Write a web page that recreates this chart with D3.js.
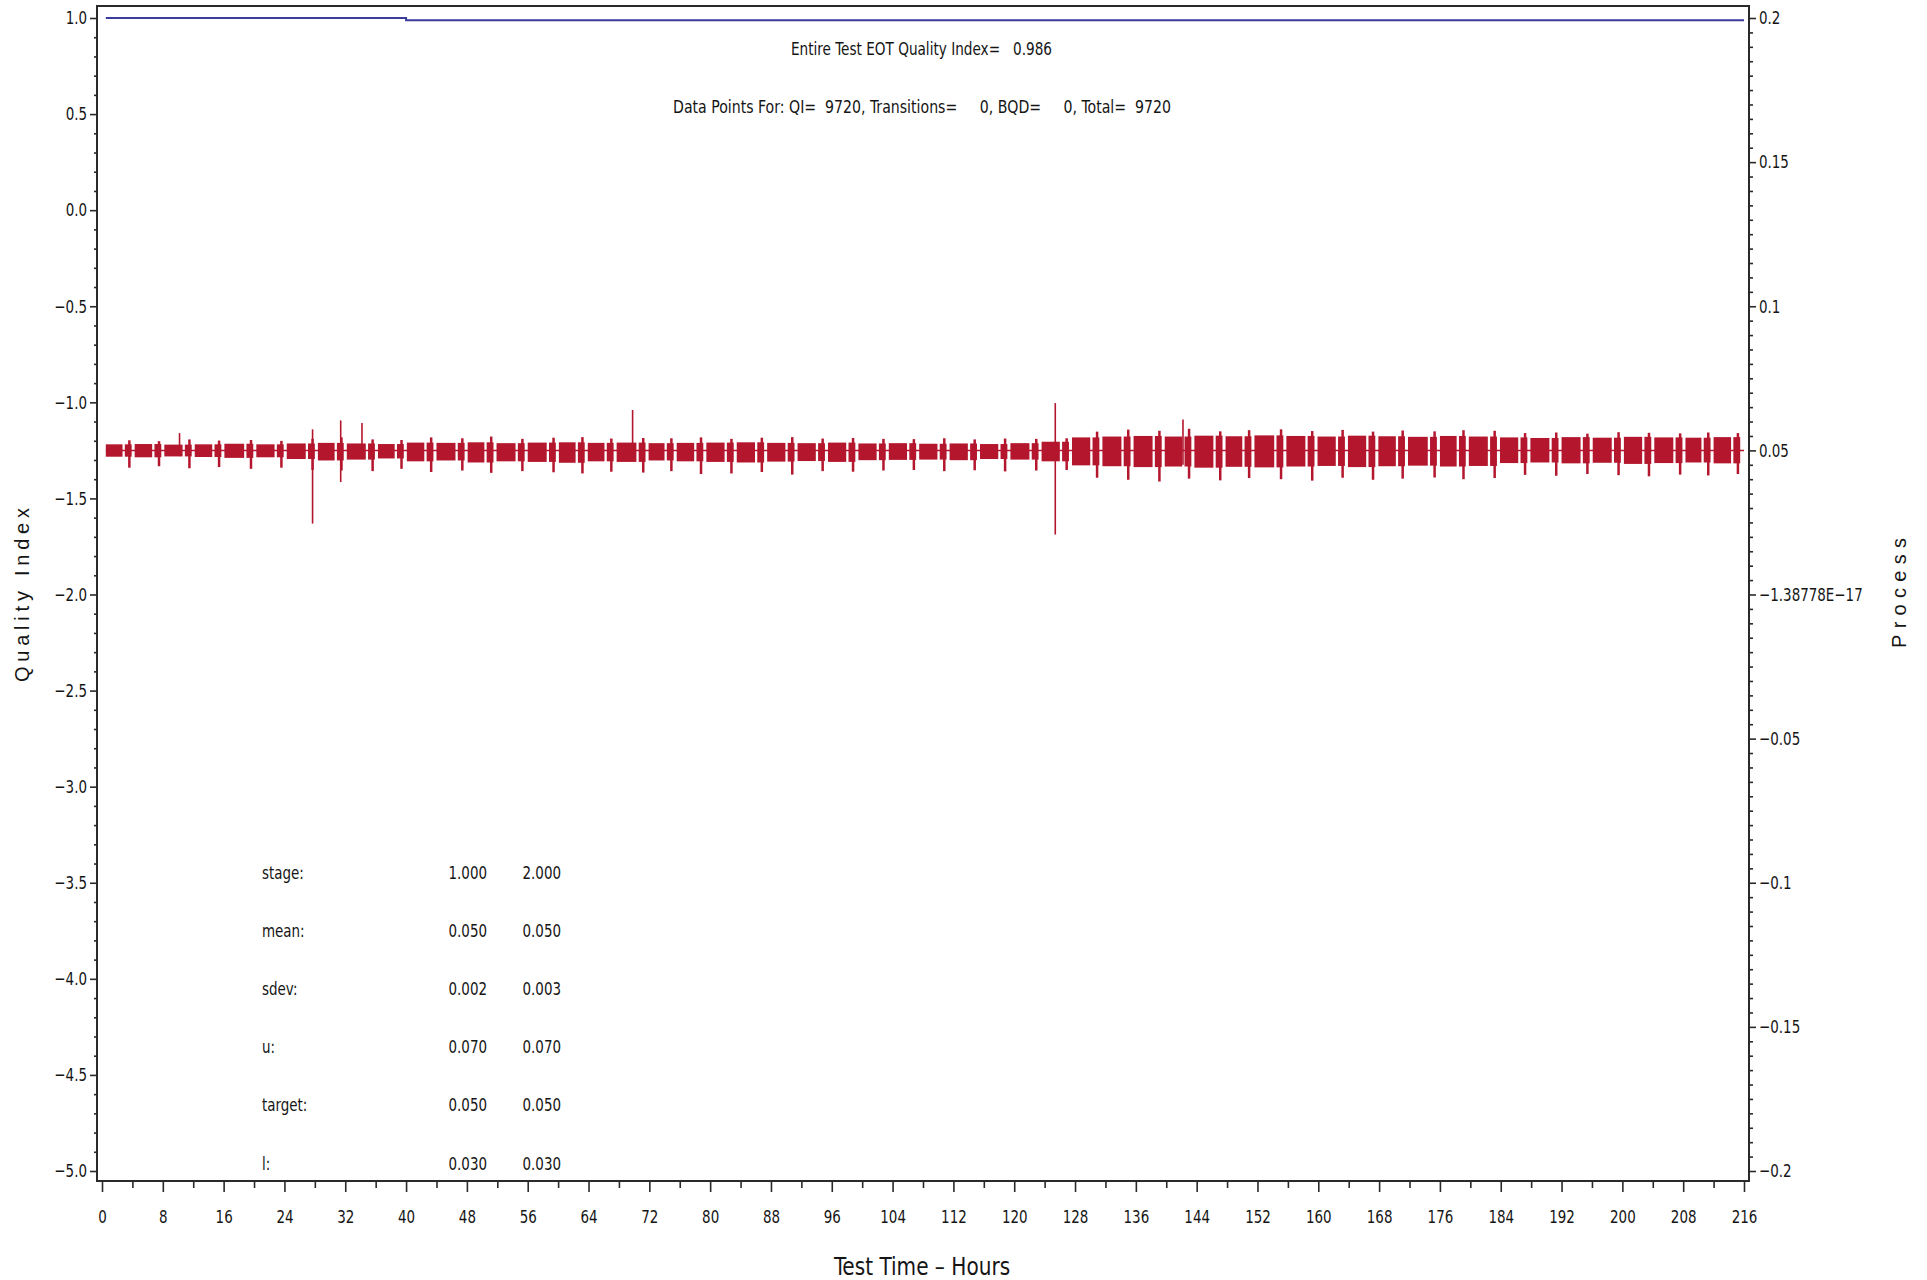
<!DOCTYPE html>
<html><head><meta charset="utf-8">
<script src="https://cdn.jsdelivr.net/npm/d3@7"></script>
<style>
html,body{margin:0;padding:0;background:#fff;}
svg text{font-family:"Liberation Sans Narrow","DejaVu Sans Condensed","Liberation Sans",sans-serif;fill:#151515;}
</style></head><body>
<svg id="chart" width="1927" height="1280"></svg>
<script>
// ---------------- data ----------------
const xTicks = [0,8,16,24,32,40,48,56,64,72,80,88,96,104,112,120,128,136,144,152,160,168,176,184,192,200,208,216];
const leftTicks = [1.0,0.5,0.0,-0.5,-1.0,-1.5,-2.0,-2.5,-3.0,-3.5,-4.0,-4.5,-5.0];
const rightTicks = [0.2,0.15,0.1,0.05,0,-0.05,-0.1,-0.15,-0.2];
const rightTickLabels = ["0.2","0.15","0.1","0.05","\u22121.38778E\u221217","\u22120.05","\u22120.1","\u22120.15","\u22120.2"];

// Quality index (left axis), per stage
const qiTime  = [0.5, 40, 216];
const qiValue = [1.0, 0.988, 0.988];

// Process (right axis): cycle transition times (hours) and block envelopes
const cycleTail = [3.6,7.5,11.5,15.4,19.6,23.6,27.7,31.5,35.6,39.4,
  43.3,47.4,51.2,55.3,59.4,63.2,67.0,71.2,
  74.9,78.8,82.8,86.8,90.8,94.8,98.8,102.8,106.8,110.8,114.8,118.8,122.9,
  126.9,
  130.9,135.0,139.1,143.0,147.1,150.9,155.1,159.2,163.2,167.2,171.1,175.3,179.1,183.2,
  187.2,191.3,195.4,199.5,203.5,207.6,211.3,215.2];
const blockHi = [0.0521,0.0522,0.0520,0.0521,0.0523,0.0521,0.0524,0.0526,0.0524,0.0522,
  0.0527,0.0526,0.0528,0.0525,0.0527,0.0528,0.0526,0.0527,
  0.0525,0.0526,0.0527,0.0528,0.0526,0.0525,0.0527,0.0524,0.0525,0.0523,0.0524,0.0522,0.0525,
  0.0530,
  0.0545,0.0548,0.0550,0.0548,0.0551,0.0549,0.0552,0.0550,0.0548,0.0551,0.0549,0.0547,0.0550,0.0548,
  0.0545,0.0543,0.0546,0.0544,0.0547,0.0545,0.0544,0.0546];
const blockLo = [0.0478,0.0476,0.0479,0.0477,0.0474,0.0476,0.0470,0.0465,0.0468,0.0472,
  0.0462,0.0465,0.0458,0.0462,0.0460,0.0457,0.0462,0.0460,
  0.0465,0.0462,0.0460,0.0458,0.0461,0.0463,0.0460,0.0466,0.0467,0.0468,0.0466,0.0470,0.0468,
  0.0462,
  0.0448,0.0445,0.0442,0.0444,0.0440,0.0443,0.0441,0.0444,0.0446,0.0442,0.0445,0.0447,0.0444,0.0446,
  0.0456,0.0458,0.0455,0.0457,0.0453,0.0456,0.0458,0.0455];
const tailLo = [0.0440,0.0445,0.0438,0.0442,0.0436,0.0440,0.0432,0.0430,0.0428,0.0436,
  0.0425,0.0430,0.0422,0.0428,0.0424,0.0420,0.0426,0.0423,
  0.0428,0.0418,0.0420,0.0425,0.0416,0.0428,0.0426,0.0430,0.0432,0.0428,0.0431,0.0427,0.0430,
  0.0432,
  0.0405,0.0398,0.0392,0.0402,0.0396,0.0404,0.0400,0.0395,0.0405,0.0398,0.0402,0.0406,0.0400,0.0404,
  0.0415,0.0412,0.0418,0.0414,0.0410,0.0416,0.0413,0.0418];
const tailHi = [0.0535,0.0532,0.0538,0.0534,0.0536,0.0533,0.0540,0.0545,0.0538,0.0536,
  0.0545,0.0542,0.0548,0.0540,0.0544,0.0546,0.0541,0.0543,
  0.0542,0.0545,0.0540,0.0544,0.0546,0.0541,0.0543,0.0540,0.0539,0.0542,0.0538,0.0541,0.0540,
  0.0542,
  0.0565,0.0572,0.0568,0.0575,0.0566,0.0570,0.0573,0.0567,0.0571,0.0565,0.0569,0.0566,0.0570,0.0568,
  0.0560,0.0562,0.0558,0.0563,0.0561,0.0559,0.0562,0.0560];
const processMean = 0.05;
const processStart = 0.5, processEnd = 216;
const spikeT  = [10.2, 27.7, 31.4, 34.2, 69.8, 125.4, 142.2];
const spikeHi = [0.0560,0.0573,0.0604,0.0595,0.0640,0.0664,0.0607];
const spikeLo = [0.0480,0.0246,0.0390,0.0470,0.0480,0.0208,0.0450];

// stats table
const statLabels = ["stage:","mean:","sdev:","u:","target:","l:"];
const stage1Stats = ["1.000","0.050","0.002","0.070","0.050","0.030"];
const stage2Stats = ["2.000","0.050","0.003","0.070","0.050","0.030"];

const titleLine1 = "Entire Test EOT Quality Index=   0.986";
const titleLine2 = "Data Points For: QI=  9720, Transitions=     0, BQD=     0, Total=  9720";

// ---------------- layout ----------------
const L = 97, R = 1749, T = 6, B = 1181;
const svg = d3.select("#chart");
const x  = d3.scaleLinear().domain([0,216]).range([102,1744]);
const yL = d3.scaleLinear().domain([-5,1]).range([1171,18]);
const yR = d3.scaleLinear().domain([-0.2,0.2]).range([1171,18]);
const red = "#b3162d";
const SQ = 0.83;
function squeeze(sel, f){
  sel.each(function(){
    const len = this.getComputedTextLength();
    if (len > 0) d3.select(this).attr("textLength", len*f).attr("lengthAdjust","spacingAndGlyphs");
  });
}

// process data (red)
const gRed = svg.append("g");
gRed.append("line")
  .attr("x1", x(processStart)).attr("x2", x(processEnd))
  .attr("y1", yR(processMean)).attr("y2", yR(processMean))
  .attr("stroke", red).attr("stroke-width", 1.5);

const blocks = cycleTail.map((t,k)=>({
  s: k===0 ? processStart : cycleTail[k-1]+0.7,
  e: t-0.9, hi: blockHi[k], lo: blockLo[k]
}));
gRed.selectAll("rect.block").data(blocks).join("rect").attr("class","block")
  .attr("x", d=>x(d.s)).attr("width", d=>Math.max(0,x(d.e)-x(d.s)))
  .attr("y", d=>yR(d.hi)).attr("height", d=>yR(d.lo)-yR(d.hi))
  .attr("fill", red);

const pieces = cycleTail.map((t,k)=>({
  s: t-0.6, e: Math.min(t+0.3, processEnd), t: t,
  hi: blockHi[k], lo: blockLo[k], th: tailHi[k], tl: tailLo[k]
}));
gRed.selectAll("rect.piece").data(pieces).join("rect").attr("class","piece")
  .attr("x", d=>x(d.s)).attr("width", d=>x(d.e)-x(d.s))
  .attr("y", d=>yR(d.hi)).attr("height", d=>yR(d.lo)-yR(d.hi))
  .attr("fill", red);
gRed.selectAll("line.tail").data(pieces).join("line").attr("class","tail")
  .attr("x1", d=>x(d.t)).attr("x2", d=>x(d.t))
  .attr("y1", d=>yR(d.th)).attr("y2", d=>yR(d.tl))
  .attr("stroke", red).attr("stroke-width", 2.5);

gRed.selectAll("line.spike").data(spikeT).join("line").attr("class","spike")
  .attr("x1", d=>x(d)).attr("x2", d=>x(d))
  .attr("y1", (d,i)=>yR(spikeHi[i])).attr("y2", (d,i)=>yR(spikeLo[i]))
  .attr("stroke", red).attr("stroke-width", 1.6);

// quality index (blue)
svg.append("path")
  .datum(qiTime.map((t,i)=>[t, qiValue[i]]))
  .attr("d", d3.line().x(d=>x(d[0])).y(d=>yL(d[1])).curve(d3.curveStepAfter))
  .attr("fill","none").attr("stroke","#3c3c9c").attr("stroke-width",2);

// frame
svg.append("rect").attr("x",L).attr("y",T).attr("width",R-L).attr("height",B-T)
  .attr("fill","none").attr("stroke","#2a2a2a").attr("stroke-width",2);

// axes
function styleAxis(g){
  g.select(".domain").remove();
  g.selectAll(".tick line").attr("stroke","#2a2a2a").attr("stroke-width",1.6);
  g.selectAll("text").attr("font-size",18).attr("fill","#151515")
    .attr("font-family",'"Liberation Sans Narrow","DejaVu Sans Condensed","Liberation Sans",sans-serif');
}
const leftMinor = d3.range(-50, 11).map(v=>v/10).filter(v=>Math.abs(v*2-Math.round(v*2))>1e-6);
svg.append("g").attr("transform",`translate(${L},0)`)
  .call(d3.axisLeft(yL).tickValues(leftMinor).tickSize(3).tickFormat("")).call(styleAxis);
const gyl = svg.append("g").attr("transform",`translate(${L},0)`)
  .call(d3.axisLeft(yL).tickValues(leftTicks).tickSize(7).tickPadding(3).tickFormat(d3.format(".1f"))).call(styleAxis);
squeeze(gyl.selectAll("text"), SQ);

const rightMinor = d3.range(-40, 41).map(v=>v/200).filter(v=>Math.abs(v*20-Math.round(v*20))>1e-6);
svg.append("g").attr("transform",`translate(${R},0)`)
  .call(d3.axisRight(yR).tickValues(rightMinor).tickSize(4).tickFormat("")).call(styleAxis);
const gyr = svg.append("g").attr("transform",`translate(${R},0)`)
  .call(d3.axisRight(yR).tickValues(rightTicks).tickSize(7).tickPadding(3).tickFormat((d,i)=>rightTickLabels[i])).call(styleAxis);
squeeze(gyr.selectAll("text"), SQ);

const xMinor = d3.range(4, 216, 8);
svg.append("g").attr("transform",`translate(0,${B})`)
  .call(d3.axisBottom(x).tickValues(xMinor).tickSize(7).tickFormat("")).call(styleAxis);
const gx = svg.append("g").attr("transform",`translate(0,${B})`)
  .call(d3.axisBottom(x).tickValues(xTicks).tickSize(11).tickFormat(d3.format("d"))).call(styleAxis);
gx.selectAll("text").attr("y",42).attr("dy",null);
squeeze(gx.selectAll("text"), SQ);

// axis titles
const xt = svg.append("text").attr("x", 922).attr("y", 1275).attr("text-anchor","middle")
  .attr("font-size",24).text("Test Time \u2013 Hours");
squeeze(xt, 0.93);
svg.append("text").attr("transform","translate(29,595) rotate(-90)").attr("text-anchor","middle")
  .attr("font-size",20).style("font-family",'"Liberation Sans","DejaVu Sans",sans-serif')
  .attr("textLength",174).attr("lengthAdjust","spacing").text("Quality Index");
svg.append("text").attr("transform","translate(1906,593) rotate(-90)").attr("text-anchor","middle")
  .attr("font-size",20).style("font-family",'"Liberation Sans","DejaVu Sans",sans-serif')
  .attr("textLength",110).attr("lengthAdjust","spacing").text("Process");

// header texts
svg.append("text").attr("x",791).attr("y",55).attr("font-size",18).style("white-space","pre")
  .attr("textLength",261).attr("lengthAdjust","spacingAndGlyphs").text(titleLine1);
svg.append("text").attr("x",673).attr("y",113).attr("font-size",18).style("white-space","pre")
  .attr("textLength",498).attr("lengthAdjust","spacingAndGlyphs").text(titleLine2);

// stats table
const gs = svg.append("g");
statLabels.forEach((lab,i)=>{
  const yy = 878.5 + i*58.2;
  gs.append("text").attr("x",262).attr("y",yy).attr("font-size",18).text(lab);
  gs.append("text").attr("x",487).attr("y",yy).attr("font-size",18).attr("text-anchor","end").text(stage1Stats[i]);
  gs.append("text").attr("x",561).attr("y",yy).attr("font-size",18).attr("text-anchor","end").text(stage2Stats[i]);
});
squeeze(gs.selectAll("text"), SQ);
</script>
</body></html>
